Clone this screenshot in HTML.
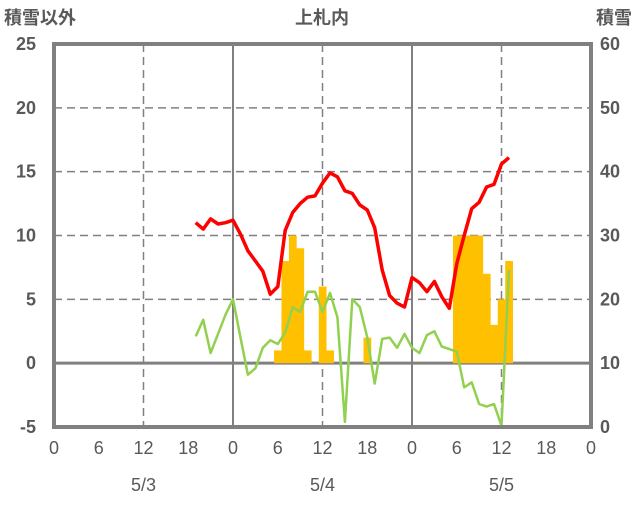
<!DOCTYPE html>
<html><head><meta charset="utf-8"><style>
body{margin:0;background:#fff;}
svg text{font-family:"Liberation Sans","Noto Sans CJK JP",sans-serif;fill:#595959;}
</style></head><body>
<svg width="636" height="501" viewBox="0 0 636 501">
<g id="grid"></g><g id="bars"></g><g id="lines"></g><g id="frame"></g><g id="labels"></g>
</svg>
<script>
const startHour = 19;
const tempValues = [11.0,10.5,11.3,10.9,11.0,11.2,10.1,8.8,8.0,7.2,5.4,6.0,10.4,11.8,12.5,13.0,13.1,14.1,14.9,14.6,13.5,13.3,12.4,12.0,10.6,7.3,5.3,4.7,4.4,6.7,6.3,5.6,6.4,5.2,4.3,7.8,10.0,12.1,12.6,13.8,14.0,15.6,16.1];
const greenValues = [2.1,3.4,0.8,2.3,3.8,5.0,2.0,-0.9,-0.4,1.2,1.8,1.5,2.4,4.4,4.0,5.6,5.6,4.0,5.5,3.6,-4.6,5.0,4.4,2.0,-1.6,1.9,2.0,1.2,2.3,1.2,0.8,2.2,2.5,1.3,1.1,0.9,-1.9,-1.5,-3.2,-3.4,-3.2,-4.9,7.3];
const barHours = [30,31,32,33,34,36,37,42,54,55,56,57,58,59,60,61];
const barValues = [1,8,10,9,1,6,1,2,10,10,10,10,7,3,5,8];
const snowValues = new Array(43).fill(0);
const leftTicks = [-5,0,5,10,15,20,25];
const rightTicks = [0,10,20,30,40,50,60];
const xTickLabels = ["0","6","12","18","0","6","12","18","0","6","12","18","0"];
const dateLabels = ["5/3","5/4","5/5"];

const L=54,R=591,T=44,B=427;
const x=h=>L+h*(R-L)/72;
const yl=v=>B-(v+5)*(B-T)/30;
const yr=v=>B-v*(B-T)/60;
const NS="http://www.w3.org/2000/svg";
function mk(tag,parent,attrs){const e=document.createElementNS(NS,tag);for(const k in attrs)e.setAttribute(k,attrs[k]);document.getElementById(parent).appendChild(e);return e;}

leftTicks.forEach(v=>{ if(v===-5||v===25)return;
  const e=mk('line','grid',{x1:L,x2:R,y1:yl(v),y2:yl(v),stroke:'#808080','stroke-width':v===0?3:1.5,'stroke-dasharray':v===0?'':'8,5'});
  
  
});
for(let h=12;h<72;h+=6){
  if(h%12!==0)continue;
  const solid=h%24===0;
  const e=mk('line','grid',{x1:x(h),x2:x(h),y1:T,y2:B,stroke:'#808080','stroke-width':solid?2:1.5,'stroke-dasharray':solid?'':'8,5'});
  
  
}
const bw=(R-L)/72;
barHours.forEach((h,i)=>{
  const e=mk('rect','bars',{x:x(h)-bw/2,width:bw+0.3,y:yl(barValues[i]),height:yl(0)-yl(barValues[i]),fill:'#ffc000'});
  
  
});
function poly(vals,fy,color,w,name){
  const pts=vals.map((v,i)=>x(startHour+i).toFixed(1)+','+fy(v).toFixed(1)).join(' ');
  const e=mk('polyline','lines',{points:pts,fill:'none',stroke:color,'stroke-width':w,'stroke-linejoin':'round'});
  
  
}
poly(greenValues,yl,'#92d050',2.5,'green-series-line');
poly(tempValues,yl,'#ff0000',3.5,'temperature-line');
const fr=mk('rect','frame',{x:L,y:T,width:R-L,height:B-T,fill:'none',stroke:'#808080','stroke-width':4});


poly(snowValues,yr,'#7030a0',3,'snow-depth-line');

function txt(s,xx,yy,anchor,size,name,weight){
  const e=mk('text','labels',{x:xx,y:yy,'text-anchor':anchor,'font-size':size,'font-weight':weight||'normal'});
  e.textContent=s;
  
  
}
leftTicks.forEach(v=>txt(String(v),36,yl(v)+6,'end',18,'left-tick-label','bold'));
rightTicks.forEach(v=>txt(String(v),600,yr(v)+6,'start',18,'right-tick-label','bold'));
xTickLabels.forEach((s,i)=>txt(s,x(i*6),454,'middle',18,'x-tick-label'));
dateLabels.forEach((s,i)=>txt(s,x(12+i*24),491,'middle',18,'date-label'));
txt('積雪以外',4,24,'start',18,'left-axis-title','bold');
txt('上札内',322,24,'middle',18,'chart-title','bold');
txt('積雪',632,24,'end',18,'right-axis-title','bold');
</script>
</body></html>
